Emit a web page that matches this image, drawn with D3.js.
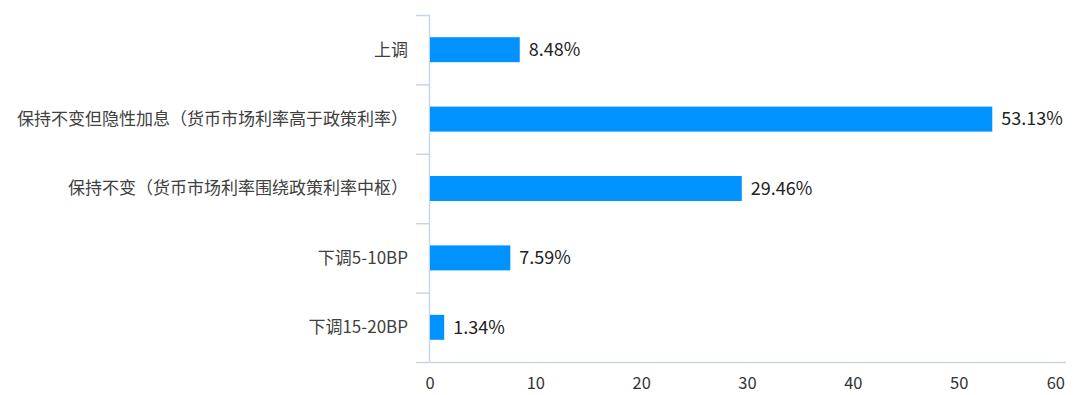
<!DOCTYPE html>
<html>
<head>
<meta charset="utf-8">
<script src="https://cdn.jsdelivr.net/npm/d3@7"></script>
<style>
  body { margin: 0; background: #fff; }
  text { font-family: "Noto Sans CJK SC", "Noto Sans", sans-serif; }
</style>
</head>
<body>
<script>
// dims
const width = 1080, height = 395;
const margin = {top: 15, right: 15, bottom: 33, left: 430};

// data
const categories = [
  '上调',
  '保持不变但隐性加息（货币市场利率高于政策利率）',
  '保持不变（货币市场利率围绕政策利率中枢）',
  '下调5-10BP',
  '下调15-20BP'
];
const values = [8.48, 53.13, 29.46, 7.59, 1.34];
const xTicks = [0, 10, 20, 30, 40, 50, 60];

const data = categories.map((c, i) => ({cat: c, val: values[i]}));

const svg = d3.select('body').append('svg')
  .attr('width', width)
  .attr('height', height);

// scales
const x = d3.scaleLinear()
  .domain([0, 60])
  .range([margin.left, width - margin.right]);
const y = d3.scaleBand()
  .domain(categories)
  .range([margin.top, height - margin.bottom])
  .paddingInner(0.64)
  .paddingOuter(0.32);

const axisColor = '#c9d5e6';

// y axis: boundary ticks between categories
const yStep = (height - margin.bottom - margin.top) / categories.length;
svg.append('g').selectAll('line')
  .data(d3.range(categories.length))
  .enter().append('line')
    .attr('x1', margin.left - 14)
    .attr('x2', margin.left)
    .attr('y1', i => margin.top + i * yStep + 0.5)
    .attr('y2', i => margin.top + i * yStep + 0.5)
    .attr('stroke', axisColor)
    .attr('stroke-width', 1.5);
svg.append('line')
  .attr('x1', margin.left - 0.5).attr('x2', margin.left - 0.5)
  .attr('y1', margin.top).attr('y2', height - margin.bottom)
  .attr('stroke', axisColor)
  .attr('stroke-width', 1.5);

// x axis line
svg.append('line')
  .attr('x1', margin.left - 14).attr('x2', width - margin.right + 1)
  .attr('y1', height - margin.bottom + 0.5).attr('y2', height - margin.bottom + 0.5)
  .attr('stroke', axisColor)
  .attr('stroke-width', 1.5);

// x tick labels (last one kept inside the plot)
svg.append('g').selectAll('text')
  .data(xTicks)
  .enter().append('text')
    .attr('x', d => x(d))
    .attr('y', height - 6)
    .attr('text-anchor', (d, i) => i === xTicks.length - 1 ? 'end' : 'middle')
    .attr('font-size', 16.5)
    .attr('fill', '#333')
    .text(d => d);

// category labels
svg.append('g').selectAll('text')
  .data(data)
  .enter().append('text')
    .attr('x', margin.left - 22)
    .attr('y', d => y(d.cat) + y.bandwidth() / 2)
    .attr('dy', '0.35em')
    .attr('text-anchor', 'end')
    .attr('font-size', 17)
    .attr('fill', '#404040')
    .text(d => d.cat);

// bars
svg.append('g').selectAll('rect')
  .data(data)
  .enter().append('rect')
    .attr('x', x(0))
    .attr('y', d => y(d.cat))
    .attr('width', d => x(d.val) - x(0))
    .attr('height', y.bandwidth())
    .attr('fill', '#0092ff');

// value labels
svg.append('g').selectAll('text')
  .data(data)
  .enter().append('text')
    .attr('x', d => x(d.val) + 9)
    .attr('y', d => y(d.cat) + y.bandwidth() / 2)
    .attr('dy', '0.35em')
    .attr('font-size', 18)
    .attr('fill', '#222')
    .text(d => d.val.toFixed(2) + '%');
</script>
</body>
</html>
